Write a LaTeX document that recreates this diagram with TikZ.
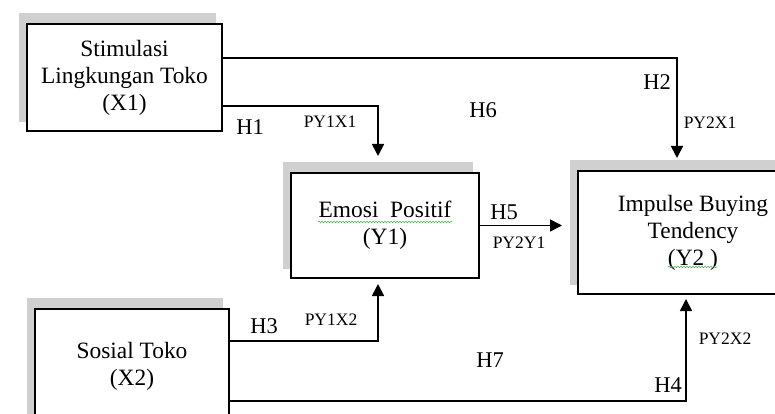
\documentclass[tikz,border=0pt]{standalone}
\usepackage{fontspec}
\setmainfont{Liberation Serif}
\usetikzlibrary{arrows.meta,backgrounds,decorations.pathmorphing}
\definecolor{shadowc}{HTML}{D0D0D0}
\definecolor{spellc}{HTML}{4CAF50}
\tikzset{
  box/.style={draw=black, line width=2pt, fill=white, rectangle, inner sep=0pt,
    align=center, font=\fontsize{23.4}{27}\selectfont},
  arr/.style={draw=black, line width=1.6pt, -{Triangle[length=12pt,width=12pt]}},
  hlab/.style={inner sep=0pt, font=\fontsize{22.5}{26}\selectfont},
  plab/.style={inner sep=0pt, font=\fontsize{17.5}{20}\selectfont},
  spell/.style={draw=spellc, line width=0.6pt, decorate,
    decoration={snake, amplitude=0.7pt, segment length=3pt}}
}
\begin{document}
\begin{tikzpicture}[x=1pt,y=-1pt]
\useasboundingbox (0,0) rectangle (775,414);
% boxes
\node[box, minimum width=195pt, minimum height=107pt] (X1) at (124.5,77.5)
  {Stimulasi\\Lingkungan Toko\\(X1)};
\node[box, minimum width=188pt, minimum height=105pt] (Y1) at (385,225.5)
  {Emosi\ \ Positif\\(Y1)};
\node[box, minimum width=230pt, minimum height=123pt] (Y2) at (693,232.5)
  {Impulse Buying\\Tendency\\(Y2 )};
\node[box, minimum width=194pt, minimum height=114pt] (X2) at (132,366)
  {Sosial Toko\\(X2)};
% shadows
\begin{pgfonlayer}{background}
\foreach \n in {X1,Y1,Y2,X2}{
  \fill[shadowc] ([shift={(-7,-10)}]\n.south west) rectangle ([shift={(-7,-10)}]\n.north east);
}
\end{pgfonlayer}
% spell-check underlines
\draw[spell] (318,222) -- (452,222);
\draw[spell] (668,267) -- (717,267);
% routing coordinates
\coordinate (a1) at (677,58);
\coordinate (a2) at (378,106);
\coordinate (b1) at (378,341);
\coordinate (b2) at (686,401);
% connectors
\draw[arr, shorten >=12pt] (X1.east |- a1) -| (Y2.north -| a1);
\draw[arr, shorten >=16pt] (X1.east |- a2) -| (Y1.north -| a2);
\draw[arr, shorten >=15pt] (Y1.east) -- (Y2.west |- Y1.east);
\draw[arr, shorten >=5pt] (X2.east |- b1) -| (Y1.south -| b1);
\draw[arr, shorten >=4pt] (X2.east |- b2) -| (Y2.south -| b2);
% labels
\node[hlab] (H1) at (250,127) {H1};
\node[plab] (P11) at (330,122) {PY1X1};
\node[hlab] (H6) at (483,110) {H6};
\node[hlab] (H2) at (657,82) {H2};
\node[plab] (P21) at (710,123) {PY2X1};
\node[hlab] (H5) at (504,212) {H5};
\node[plab] (P2Y) at (519,243) {PY2Y1};
\node[hlab] (H3) at (264,326) {H3};
\node[plab] (P12) at (331,320) {PY1X2};
\node[hlab] (H7) at (490,360) {H7};
\node[plab] (P22) at (725,339) {PY2X2};
\node[hlab] (H4) at (668,385) {H4};
\end{tikzpicture}
\end{document}
